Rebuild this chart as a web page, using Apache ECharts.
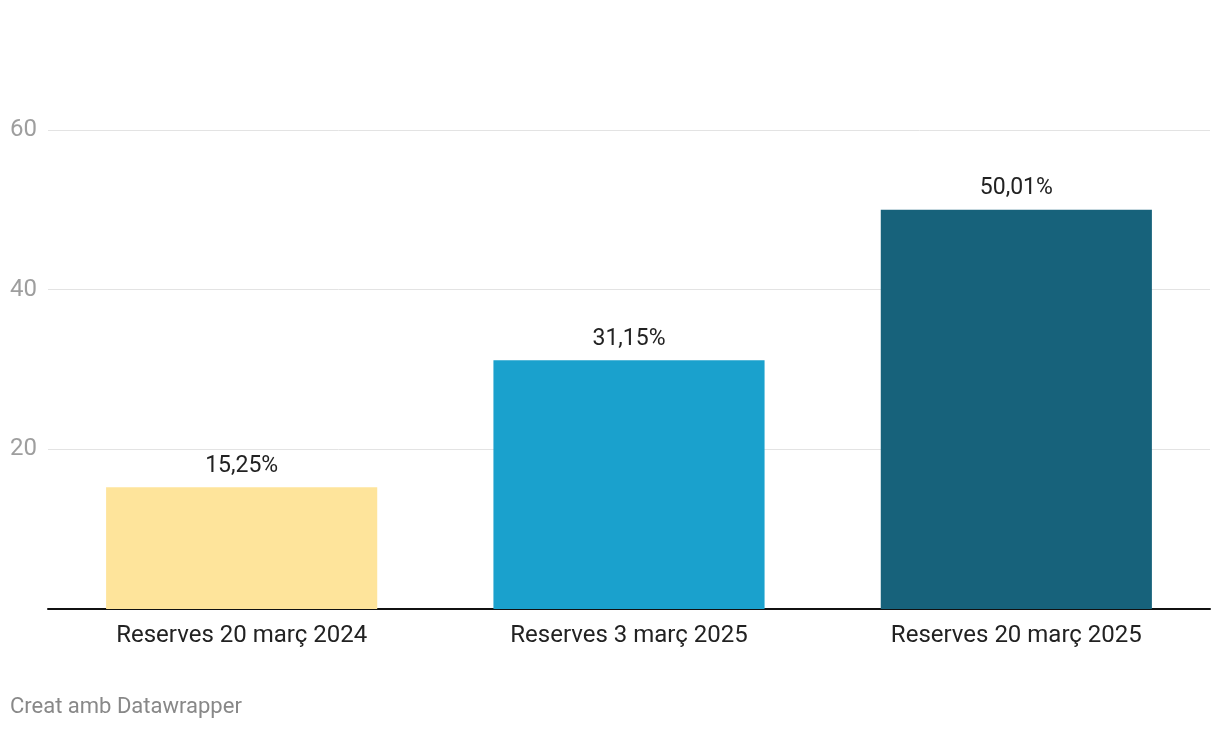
<!DOCTYPE html>
<html><head><meta charset="utf-8">
<script src="https://cdn.jsdelivr.net/npm/echarts@6/dist/echarts.min.js"></script>
<style>html,body{margin:0;padding:0;background:#fff}#c{width:1220px;height:730px}</style>
</head><body><div id="c"></div>
<script>
const categories = ['Reserves 20 març 2024', 'Reserves 3 març 2025', 'Reserves 20 març 2025'];
const values = [15.25, 31.15, 50.01];
const barColors = ['#fee49b', '#1aa1cd', '#17627b'];
const yTicks = [20, 40, 60];

const chart = echarts.init(document.getElementById('c'));
chart.setOption({
  animation: false,
  backgroundColor: '#fff',
  textStyle: { fontFamily: 'Roboto' },
  grid: { left: 48, right: 10, top: 130, bottom: 121, containLabel: false },
  graphic: [{ type: 'text', left: 10, top: 696, style: { text: 'Creat amb Datawrapper', fill: '#888', font: '22px Roboto' } }],
  xAxis: {
    type: 'category', data: categories,
    axisLine: { lineStyle: { color: '#111', width: 2 } },
    axisTick: { show: false },
    axisLabel: { color: '#222', fontSize: 24, margin: 15, fontFamily: 'Roboto' }
  },
  yAxis: {
    type: 'value', min: 0, max: 60, interval: 20,
    axisLine: { show: false }, axisTick: { show: false },
    splitLine: { lineStyle: { color: '#e3e3e3', width: 1 } },
    axisLabel: {
      color: '#9e9e9e', fontSize: 24, align: 'left', margin: 38, fontFamily: 'Roboto',
      padding: [4, 0, 0, 0],
      formatter: v => yTicks.includes(v) ? String(v) : ''
    }
  },
  series: [{
    type: 'bar', barWidth: '70%',
    data: values.map((v, i) => ({ value: v, itemStyle: { color: barColors[i] } })),
    label: {
      show: true, position: 'top', distance: 10, color: '#222', fontSize: 23, fontFamily: 'Roboto',
      formatter: p => p.value.toFixed(2).replace('.', ',') + '%'
    }
  }]
});
</script></body></html>
